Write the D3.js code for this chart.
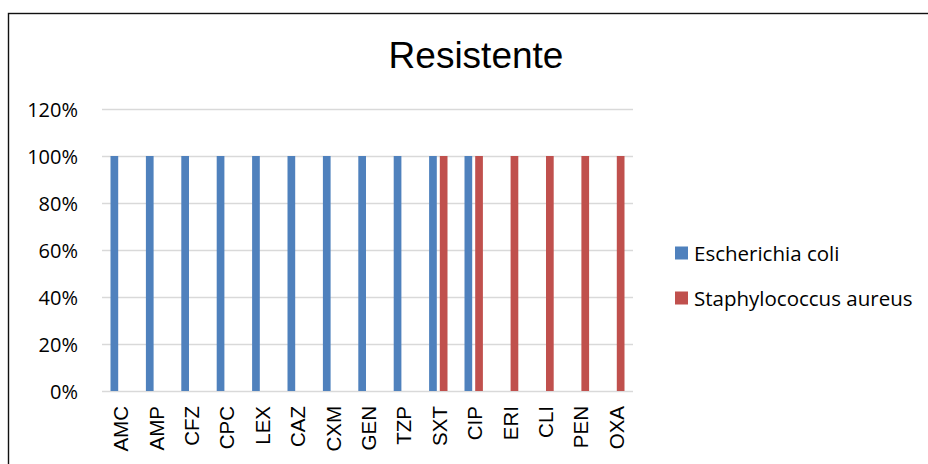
<!DOCTYPE html>
<html><head><meta charset="utf-8">
<script src="https://cdn.jsdelivr.net/npm/d3@7"></script>
<style>html,body{margin:0;padding:0;background:#fff;}svg{display:block;}</style>
</head><body>
<svg id="chart" width="928" height="464"></svg>
<script>
const title = "Resistente";
const categories = ["AMC","AMP","CFZ","CPC","LEX","CAZ","CXM","GEN","TZP","SXT","CIP","ERI","CLI","PEN","OXA"];
const seriesNames = ["Escherichia coli","Staphylococcus aureus"];
const ecoli  = [1,1,1,1,1,1,1,1,1,1,1,0,0,0,0];
const saureus = [0,0,0,0,0,0,0,0,0,1,1,1,1,1,1];
const yTicks = [0,0.2,0.4,0.6,0.8,1.0,1.2];
const colors = ["#4F81BD","#C0504D"];

const svg = d3.select("#chart");
svg.append("rect").attr("x",8.5).attr("y",13.5).attr("width",940).attr("height",470)
  .attr("fill","#fff").attr("stroke","#111").attr("stroke-width",1.4);

const pLeft=102, pRight=633, pTop=109, pBottom=391;
const x = d3.scaleBand().domain(categories).range([pLeft,pRight]).paddingInner(0).paddingOuter(0);
const y = d3.scaleLinear().domain([0,1.2]).range([pBottom,pTop]);
const bw = x.bandwidth();
const xs = d3.scaleBand().domain([0,1]).range([bw/2-9.2, bw/2+9.2]).paddingInner(0.28);

// gridlines
svg.append("g").selectAll("line").data(yTicks).join("line")
  .attr("x1",pLeft).attr("x2",pRight)
  .attr("y1",d=>Math.round(y(d))+0.5).attr("y2",d=>Math.round(y(d))+0.5)
  .attr("stroke","#d9d9d9").attr("stroke-width",1.6);

// y labels
const yAxis = d3.axisLeft(y).tickValues(yTicks).tickFormat(d=>Math.round(d*100)+"%").tickSize(0).tickPadding(0);
const ya = svg.append("g").attr("transform",`translate(78,0)`).call(yAxis);
ya.select(".domain").remove();
ya.selectAll("text").attr("font-family","'Open Sans'").attr("font-size",20).attr("fill","#000").attr("dy","0.35em");

// bars
const data = [ecoli, saureus];
data.forEach((vals,si)=>{
  svg.append("g").selectAll("rect").data(categories).join("rect")
    .attr("x",(c)=>x(c)+xs(si))
    .attr("width",xs.bandwidth())
    .attr("y",(c,i)=>y(vals[i]))
    .attr("height",(c,i)=>y(0)-y(vals[i]))
    .attr("fill",colors[si]);
});

// x labels
const xAxis = d3.axisBottom(x).tickSize(0).tickPadding(0);
const xa = svg.append("g").attr("transform",`translate(0,${pBottom})`).call(xAxis);
xa.select(".domain").remove();
xa.selectAll("text").attr("font-family","'Liberation Sans', Arial").attr("font-size",20.5).attr("fill","#000")
  .attr("text-anchor","end").attr("dy",null).attr("y",null)
  .attr("transform","translate(1,15) rotate(-90)").attr("dominant-baseline","central");

// title
svg.append("text").attr("x",476).attr("y",68).attr("text-anchor","middle")
  .attr("font-family","'Liberation Sans', Arial").attr("font-size",37).attr("fill","#000").text(title);

// legend
const lg = svg.append("g");
seriesNames.forEach((n,i)=>{
  const yy = 253 + i*45;
  lg.append("rect").attr("x",675).attr("y",yy-6.5).attr("width",13).attr("height",13).attr("fill",colors[i]);
  lg.append("text").attr("x",694).attr("y",yy+7.5).attr("font-family","'Open Sans'").attr("font-size",20.5)
    .attr("fill","#000").text(n);
});
</script>
</body></html>
